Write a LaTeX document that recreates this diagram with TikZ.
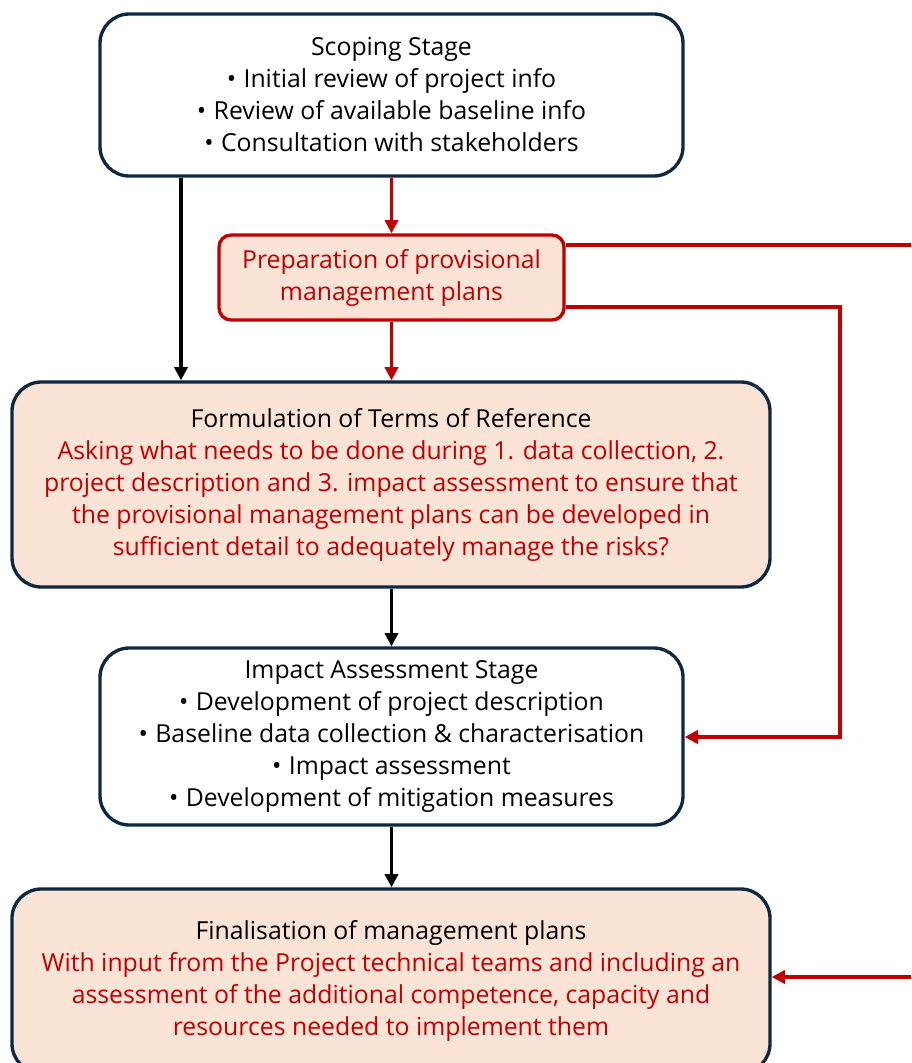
\documentclass[tikz,border=0pt]{standalone}
\usepackage{fontspec}
\setmainfont{Open Sans}
\usetikzlibrary{arrows.meta}
\definecolor{navy}{HTML}{0E2841}
\definecolor{dred}{HTML}{C00000}
\definecolor{peach}{HTML}{FBE3D6}
\newcommand{\bul}{•\hspace{0.3em}}
\begin{document}
\begin{tikzpicture}[x=0.75pt,y=-0.75pt,
  txt/.style={font=\fontsize{18.6}{24}\selectfont},
  box/.style={draw=navy, line width=2.5pt, rounded corners=22pt, align=center, inner sep=0pt, txt},
  peachbox/.style={box, fill=peach},
  prepbox/.style={draw=dred, fill=peach, line width=2.5pt, rounded corners=9pt, align=center, inner sep=0pt, txt, text=dred},
  blk/.style={draw=black, line width=2.3pt, -{Triangle[length=10pt,width=10pt]}},
  redarr/.style={draw=dred, line width=2.3pt, -{Triangle[length=10pt,width=10pt]}},
  redline/.style={draw=dred, line width=2.3pt}
]
\clip (0,0) rectangle (911,1063);
\fill[white] (0,0) rectangle (911,1063);

\node[box, fill=white, minimum width=583*0.75pt, minimum height=162*0.75pt] (scope) at (391.5,95)
  {Scoping Stage\\ \bul Initial review of project info\\ \bul Review of available baseline info\\ \bul Consultation with stakeholders};

\node[prepbox, minimum width=345*0.75pt, minimum height=85*0.75pt] (prep) at (391.5,277.5)
  {Preparation of provisional\\ management plans};

\node[peachbox, minimum width=758*0.75pt, minimum height=205*0.75pt] (form) at (391,484.5)
  {Formulation of Terms of Reference\\ \textcolor{dred}{Asking what needs to be done during 1. data collection, 2.}\\ \textcolor{dred}{project description and 3. impact assessment to ensure that}\\ \textcolor{dred}{the provisional management plans can be developed in}\\ \textcolor{dred}{sufficient detail to adequately manage the risks?}};

\node[box, fill=white, minimum width=583*0.75pt, minimum height=177*0.75pt] (imp) at (391.5,736.5)
  {Impact Assessment Stage\\ \bul Development of project description\\ \bul Baseline data collection \& characterisation\\ \bul Impact assessment\\ \bul Development of mitigation measures};

\node[peachbox, minimum width=758*0.75pt, minimum height=184*0.75pt] (fin) at (391,981)
  {Finalisation of management plans\\ \textcolor{dred}{With input from the Project technical teams and including an}\\ \textcolor{dred}{assessment of the additional competence, capacity and}\\ \textcolor{dred}{resources needed to implement them}};

\coordinate (rout) at (911,245);
\coordinate (rin) at (911,977);
\coordinate (rcorner1) at (840,307);
\coordinate (rcorner2) at (840,737);

\draw[blk] (scope.south -| 181,0) -- (form.north -| 181,0);
\draw[redarr] (scope.south -| prep.north) -- (prep.north);
\draw[redarr] (prep.south) -- (prep.south |- form.north);
\draw[blk] (form.south -| prep.south) -- (prep.south |- imp.north);
\draw[blk] (imp.south -| prep.south) -- (prep.south |- fin.north);
\draw[redline] (prep.east |- rout) -- (rout);
\draw[redarr] (prep.east |- rcorner1) -- (rcorner1) -- (rcorner2) -- (imp.east |- rcorner2);
\draw[redarr] (rin) -- (rin -| fin.east);
\end{tikzpicture}
\end{document}
